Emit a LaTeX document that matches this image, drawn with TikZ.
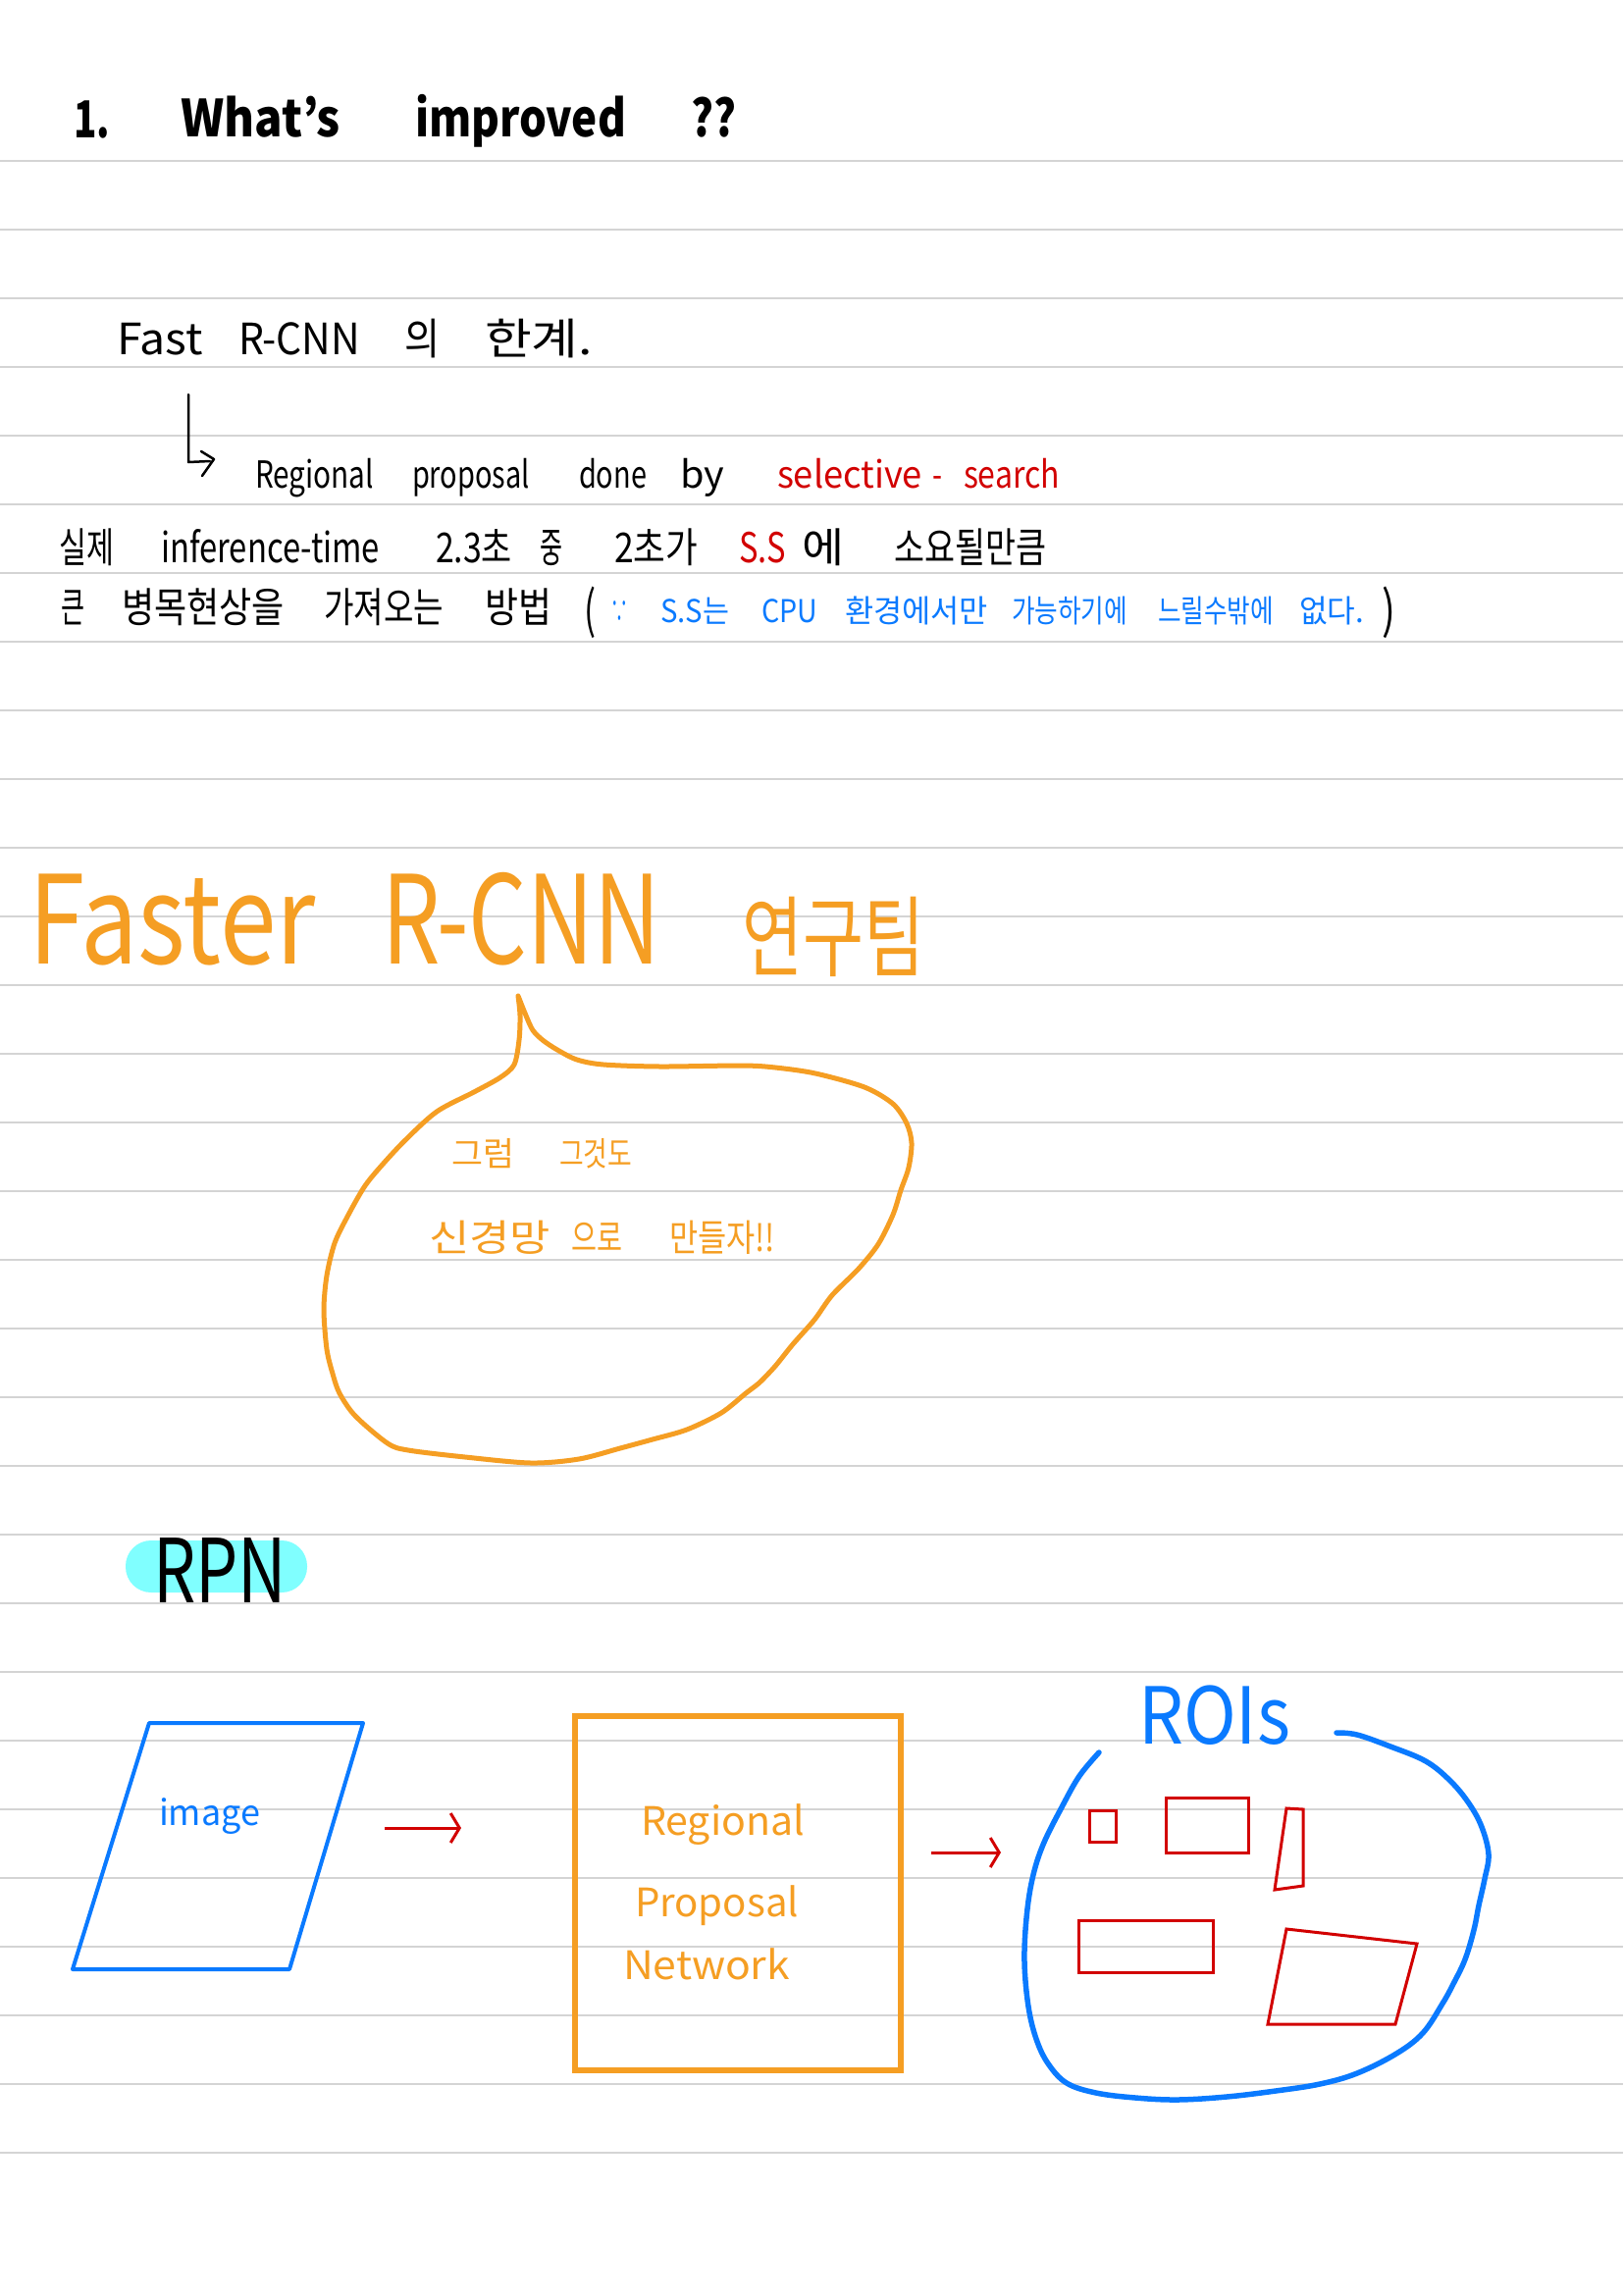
\documentclass[tikz,border=0pt]{standalone}
\usepackage{fontspec}
\setmainfont{Noto Sans CJK KR}
\usetikzlibrary{arrows.meta}
\definecolor{orng}{RGB}{245,158,35}
\definecolor{bluec}{RGB}{10,122,255}
\definecolor{redc}{RGB}{210,0,0}
\definecolor{cyanc}{RGB}{128,255,255}
\definecolor{rulegray}{RGB}{212,212,212}
\newcommand\fw[2]{\resizebox{#1pt}{\height}{#2}}
\newcommand\fsz[1]{\fontsize{#1}{#1}\selectfont}
\tikzset{
  txt/.style={anchor=base west, inner sep=0pt, outer sep=0pt},
  ruleline/.style={draw=rulegray, line width=2pt},
  redarrow/.style={draw=redc, line width=3pt, -{Straight Barb[length=9pt,width=30pt]}},
  redbox/.style={draw=redc, line width=3pt, line join=miter},
  penline/.style={line width=#1, line cap=round, line join=round},
}
\begin{document}
\begin{tikzpicture}[x=1pt,y=-1pt]
\useasboundingbox (0,0) rectangle (1654,2339);
\fill[white] (0,0) rectangle (1654,2339);
% ruled lines
\foreach \k in {0,...,29} \draw[ruleline] (0,{164+70*\k}) -- (1654,{164+70*\k});

% title
\begin{scope}[every node/.style={txt, font=\fsz{52}\bfseries}]
\node (t1a) at (75,140) {\fw{37}{1.}};
\node (t1b) at (184,140) {\fw{163}{What's}};
\node (t1c) at (423,140) {\fw{215}{improved}};
\node (t1d) at (704,140) {\fw{46}{??}};
\end{scope}

% Fast R-CNN line
\begin{scope}[every node/.style={txt, font=\fsz{44}}]
\node (f1) at (119,361) {\fw{88}{Fast}};
\node (f2) at (243,361) {\fw{124}{R-CNN}};
\node (f3) at (412,361) {\fw{36}{의}};
\node (f4) at (494,361) {\fw{110}{한계.}};
\end{scope}

% hooked arrow
\draw[penline=2.5pt] (192,402) -- (192,471) -- (214,470);
\draw[penline=2.5pt] (205,460) -- (218,468) -- (206,485);

% Regional proposal line
\begin{scope}[every node/.style={txt, font=\fsz{38}}]
\node (r1) at (260,497) {\fw{121}{Regional}};
\node (r2) at (420,497) {\fw{120}{proposal}};
\node (r3) at (590,497) {\fw{69}{done}};
\node (r4) at (693,497) {\fw{45}{by}};
\node[text=redc] (r5) at (792,497) {\fw{148}{selective}};
\node[text=redc] (r6) at (950,497) {\fw{10}{-}};
\node[text=redc] (r7) at (982,497) {\fw{98}{search}};
\end{scope}

% line 3
\begin{scope}[every node/.style={txt, font=\fsz{42}}]
\node (s1) at (60,573) {\fw{56}{실제}};
\node (s2) at (164,573) {\fw{223}{inference-time}};
\node (s3) at (444,573) {\fw{78}{2.3초}};
\node (s4) at (550,573) {\fw{23}{중}};
\node (s5) at (626,573) {\fw{85}{2초가}};
\node[text=redc] (s6) at (753,573) {\fw{48}{S.S}};
\node (s7) at (817,573) {\fw{43}{에}};
\node (s8) at (911,573) {\fw{155}{소요될만큼}};
\end{scope}

% line 4
\begin{scope}[every node/.style={txt, font=\fsz{42}}]
\node (u1) at (62,634) {\fw{24}{큰}};
\node (u2) at (124,634) {\fw{166}{병목현상을}};
\node (u3) at (330,634) {\fw{122}{가져오는}};
\node (u4) at (494,634) {\fw{68}{방법}};
\node[font=\fsz{52}] (u5) at (595,640) {\fw{12}{(}};
\node[font=\fsz{52}] (u13) at (1408,640) {\fw{14}{)}};
\end{scope}
\begin{scope}[every node/.style={txt, font=\fsz{32}, text=bluec}]
\node (u6) at (622,634) {\fw{18}{∵}};
\node (u7) at (673,634) {\fw{70}{S.S는}};
\node (u8) at (776,634) {\fw{57}{CPU}};
\node (u9) at (861,634) {\fw{146}{환경에서만}};
\node (u10) at (1031,634) {\fw{118}{가능하기에}};
\node (u11) at (1180,634) {\fw{118}{느릴수밖에}};
\node (u12) at (1324,634) {\fw{66}{없다.}};
\end{scope}

% Faster R-CNN heading
\begin{scope}[every node/.style={txt, font=\fsz{125}, text=orng}]
\node (h1) at (29,982) {\fw{293}{Faster}};
\node (h2) at (389,982) {\fw{284}{R-CNN}};
\node[font=\fsz{90}] (h3) at (756,988) {\fw{186}{연구팀}};
\end{scope}

% speech bubble
\draw[orng, penline=5pt] plot[smooth, tension=0.5] coordinates {
(528,1015) (536,1035) (543,1050) (553,1060) (568,1070) (588,1080) (615,1085)
(673,1087) (756,1086) (790,1088) (831,1094) (881,1108) (910,1125) (924,1145)
(929,1165) (926,1190) (918,1213) (910,1238) (895,1268) (875,1293) (848,1320)
(830,1345) (808,1370) (792,1390) (783,1400) (773,1410) (760,1420) (735,1440)
(700,1457) (665,1467) (632,1476) (590,1487) (541,1491) (474,1485) (416,1478)
(395,1471) (362,1443) (346,1420) (339,1400) (333,1375) (330,1335) (333,1300)
(341,1267) (354,1240) (371,1210) (387,1190) (412,1163) (445,1133) (483,1113)
(510,1098) (524,1085) (529,1060) (530,1035) (528,1015)};
\begin{scope}[every node/.style={txt, font=\fsz{34}, text=orng}]
\node (b1) at (460,1188) {\fw{64}{그럼}};
\node (b2) at (570,1188) {\fw{74}{그것도}};
\node[font=\fsz{38}] (b3) at (437,1275) {\fw{124}{신경망}};
\node[font=\fsz{38}] (b4) at (582,1275) {\fw{52}{으로}};
\node[font=\fsz{38}] (b5) at (682,1275) {\fw{108}{만들자!!}};
\end{scope}

% RPN label
\fill[cyanc, rounded corners=26pt] (128,1570) rectangle (313,1623);
\node[txt, font=\fsz{90}] (rpn) at (156,1633) {\fw{136}{RPN}};

% image parallelogram
\draw[bluec, line width=4pt, line join=round] (152,1756) -- (370,1756) -- (295,2007) -- (74,2007) -- cycle;
\node[txt, font=\fsz{36}, text=bluec] (img) at (162,1860) {\fw{103}{image}};

% arrow 1
\coordinate (a1s) at (392,1863);
\coordinate (a1e) at (470,1863);
\draw[redarrow] (a1s) -- (a1e);

% RPN box
\node[draw=orng, line width=6pt, minimum width=332pt, minimum height=361pt, inner sep=0pt, anchor=north west] (box) at (583,1746) {};
\begin{scope}[every node/.style={txt, font=\fsz{40}, text=orng}]
\node (x1) at (653,1870) {\fw{167}{Regional}};
\node (x2) at (647,1953) {\fw{167}{Proposal}};
\node (x3) at (635,2017) {\fw{170}{Network}};
\end{scope}

% arrow 2
\coordinate (a2s) at (949,1888);
\coordinate (a2e) at (1020,1888);
\draw[redarrow] (a2s) -- (a2e);

% ROIs blob
\draw[bluec, penline=5.5pt] plot[smooth, tension=0.6] coordinates {
(1362,1766) (1383,1768) (1417,1780) (1453,1795) (1478,1815) (1497,1838)
(1510,1862) (1517,1890) (1513,1915) (1507,1942) (1502,1967) (1493,1997)
(1481,2022) (1470,2042) (1450,2072) (1423,2093) (1383,2113) (1345,2124)
(1300,2131) (1250,2137) (1200,2140) (1157,2138) (1117,2133) (1087,2123)
(1068,2103) (1056,2078) (1048,2045) (1044,2000) (1046,1955) (1052,1915)
(1063,1880) (1083,1840) (1100,1810) (1120,1786)};
\node[txt, font=\fsz{80}, text=bluec] (rois) at (1160,1777) {\fw{155}{ROIs}};

% red region boxes
\draw[redbox] (1110,1845) rectangle (1137,1877);
\draw[redbox] (1188,1832) rectangle (1272,1888);
\draw[redbox] (1311,1843) -- (1328,1844) -- (1328,1922) -- (1299,1926) -- cycle;
\draw[redbox] (1099,1957) rectangle (1236,2010);
\draw[redbox] (1311,1966) -- (1444,1981) -- (1422,2063) -- (1292,2063) -- cycle;
\end{tikzpicture}
\end{document}
